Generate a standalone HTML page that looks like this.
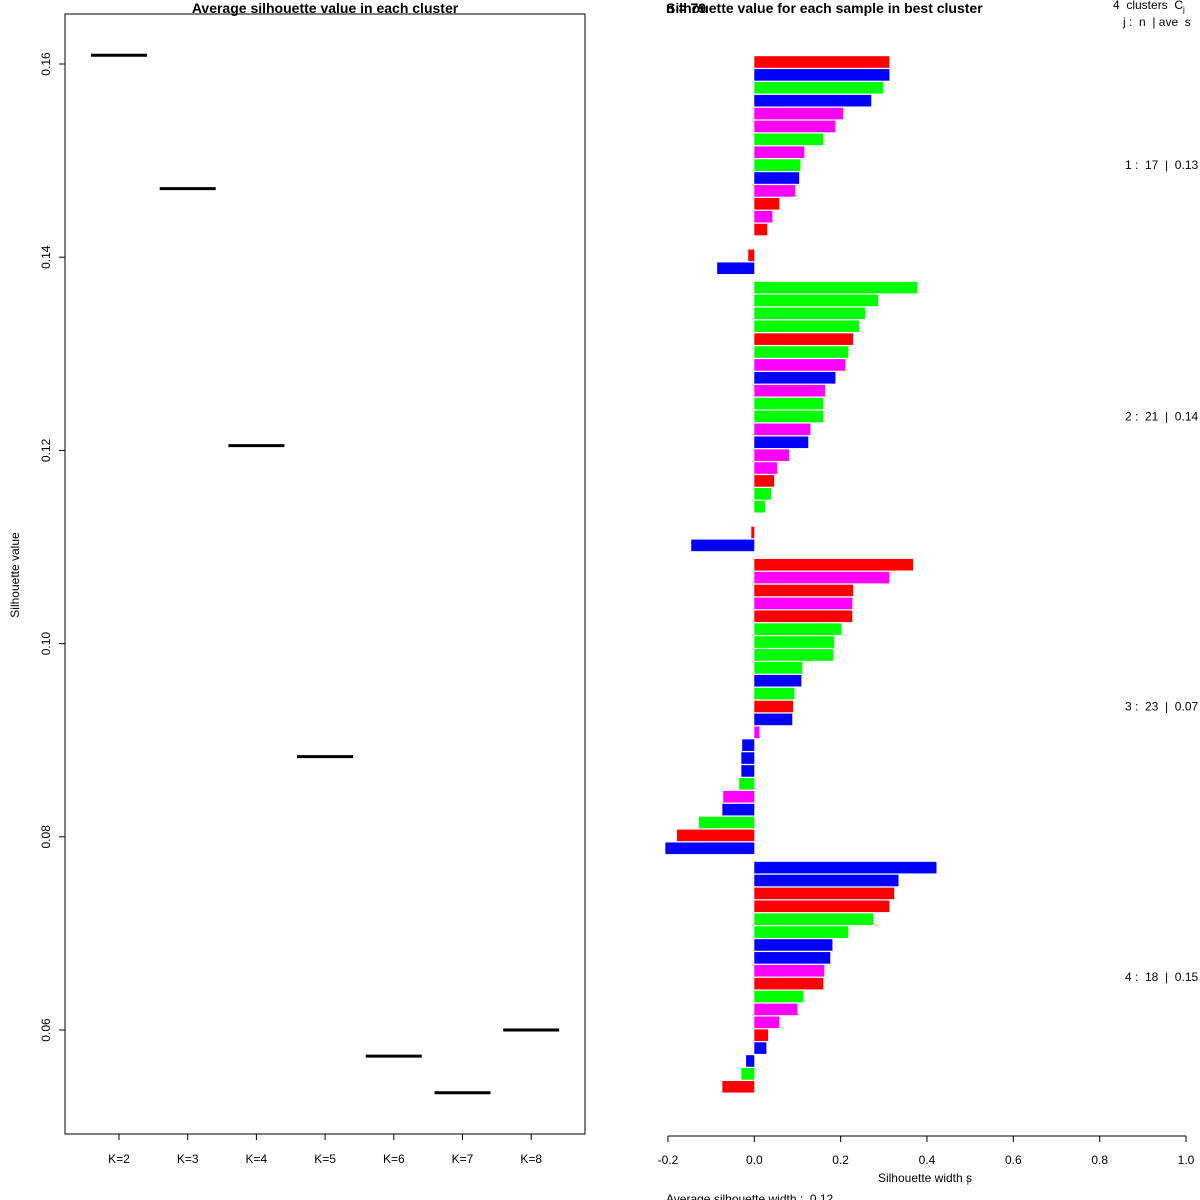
<!DOCTYPE html>
<html><head><meta charset="utf-8"><style>
body{margin:0;background:#fff;}
svg{display:block;font-family:"Liberation Sans",sans-serif;}
text{white-space:pre;}
</style></head><body>
<svg id="s" width="1200" height="1200" viewBox="0 0 1200 1200" xml:space="preserve">
<rect x="0" y="0" width="1200" height="1200" fill="#fff"/>
<g id="left"></g>
<g id="right"></g>
</svg>
<script>
const kLabels=["K=2","K=3","K=4","K=5","K=6","K=7","K=8"];
const kValues=[0.1609,0.1471,0.1205,0.0883,0.0573,0.0535,0.0600];
const yTicks=[0.06,0.08,0.10,0.12,0.14,0.16];
const clusterSizes=[17,21,23,18];
const clusterAvg=["0.13","0.14","0.07","0.15"];
const sampleValues=[
0.313,0.313,0.299,0.271,0.206,0.188,0.160,0.116,0.107,0.104,0.095,0.058,0.042,0.030,0.0,-0.014,-0.086,
0.378,0.287,0.257,0.243,0.229,0.218,0.211,0.188,0.164,0.160,0.160,0.130,0.125,0.081,0.053,0.046,0.039,0.025,0.0,-0.007,-0.146,
0.368,0.313,0.229,0.227,0.227,0.202,0.185,0.183,0.111,0.109,0.093,0.090,0.088,0.012,-0.028,-0.030,-0.030,-0.035,-0.072,-0.074,-0.128,-0.179,-0.206,
0.422,0.334,0.324,0.313,0.276,0.218,0.181,0.176,0.162,0.160,0.114,0.100,0.058,0.032,0.028,-0.019,-0.030,-0.074];
const sampleColors=[
"r","b","g","b","m","m","g","m","g","b","m","r","m","r","r","r","b",
"g","g","g","g","r","g","m","b","m","g","g","m","b","m","m","r","g","g","g","r","b",
"r","m","r","m","r","g","g","g","g","b","g","r","b","m","b","b","b","g","m","b","g","r","b",
"b","b","r","r","g","g","b","b","m","r","g","m","m","r","b","b","g","r"];
const xTicks=[-0.2,0,0.2,0.4,0.6,0.8,1.0];
const NS="http://www.w3.org/2000/svg";
const colMap={r:"#ff0000",g:"#00ff00",b:"#0000ff",m:"#ff00ff"};
function mk(p,t,a,txt){const e=document.createElementNS(NS,t);for(const k in a)e.setAttribute(k,a[k]);if(txt!==undefined)e.textContent=txt;p.appendChild(e);return e;}
// left chart
const L=document.getElementById('left');
const ly=v=>64+(0.16-v)*9660;
const lx=i=>119+i*68.7;
let e=mk(L,'rect',{x:65,y:14,width:520,height:1120,fill:'none',stroke:'#000','stroke-width':1});

e=mk(L,'text',{x:325,y:13,'text-anchor':'middle','font-size':14,'font-weight':'bold'},'Average silhouette value in each cluster');

yTicks.forEach(v=>{const y=ly(v);
 e=mk(L,'line',{x1:59,x2:65,y1:y,y2:y,stroke:'#000'});
 e=mk(L,'text',{x:50,y:y,'font-size':12,'text-anchor':'middle',transform:`rotate(-90 50 ${y})`},v.toFixed(2));
 });
e=mk(L,'text',{x:19,y:575,'font-size':12,'text-anchor':'middle',transform:'rotate(-90 19 575)'},'Silhouette value');

kLabels.forEach((k,i)=>{const x=lx(i);
 e=mk(L,'line',{x1:x,x2:x,y1:1134,y2:1140,stroke:'#000'});
 e=mk(L,'text',{x:x,y:1163,'font-size':12,'text-anchor':'middle'},k);
 e=mk(L,'line',{x1:x-28,x2:x+28,y1:ly(kValues[i]),y2:ly(kValues[i]),stroke:'#000','stroke-width':3});
 });
// right chart
const R=document.getElementById('right');
const rx=v=>754.3+v*431.7;
const pitch=12.89;
let idx=0;
clusterSizes.forEach((n,c)=>{
 for(let j=0;j<n;j++){const v=sampleValues[idx];const yc=62+(idx+0.5*c)*pitch;
  const x0=Math.min(rx(0),rx(v)),w=Math.abs(rx(v)-rx(0));
  e=mk(R,'rect',{x:x0,y:yc-5.8,width:w,height:11.6,fill:colMap[sampleColors[idx]]});
  idx++;}
 const start=idx-n, mid=62+((start+idx-1)/2+0.5*c)*pitch;
 e=mk(R,'text',{x:1125,y:mid+4,'font-size':12},`${c+1} :  ${n}  |  ${clusterAvg[c]}`);
 });
e=mk(R,'line',{x1:rx(-0.2),x2:rx(1),y1:1136,y2:1136,stroke:'#000'});
xTicks.forEach(v=>{const x=rx(v);
 e=mk(R,'line',{x1:x,x2:x,y1:1136,y2:1142,stroke:'#000'});
 e=mk(R,'text',{x:x,y:1164,'font-size':12,'text-anchor':'middle'},v.toFixed(1));});
e=mk(R,'text',{x:925,y:1182,'font-size':12,'text-anchor':'middle'},'Silhouette width s');
mk(R,'text',{x:967,y:1185,'font-size':8},'i');
e=mk(R,'text',{x:666,y:1203,'font-size':12},'Average silhouette width :  0.12');
e=mk(R,'text',{x:666,y:13,'font-size':14,'font-weight':'bold'},'n = 79');
e=mk(R,'text',{x:666,y:13,'font-size':14,'font-weight':'bold'},'Silhouette value for each sample in best cluster');

e=mk(R,'text',{x:1113,y:9,'font-size':12},'4  clusters  C');
mk(R,'text',{x:1183,y:12,'font-size':8},'j');
e=mk(R,'text',{x:1123,y:26,'font-size':12},'j :  n  | ave  s');
</script>
</body></html>
